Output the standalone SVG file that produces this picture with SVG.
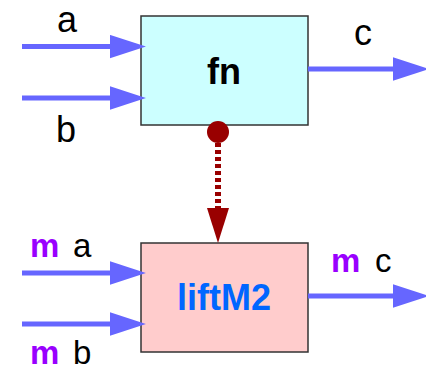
<svg xmlns="http://www.w3.org/2000/svg" width="426" height="371" viewBox="0 0 426 371">
<style>
.box{stroke:#333;stroke-width:1.5}
.flow{stroke:#6666ff;stroke-width:5;fill:none}
.lbl{font-family:"Liberation Sans",Arial,sans-serif;font-size:36px;fill:#000}
.lbl2{font-family:"Liberation Sans",Arial,sans-serif;font-size:33px;fill:#000}
.m{font-weight:bold;fill:#9900ff}
.title{font-family:"Liberation Sans",Arial,sans-serif;font-size:36px;font-weight:bold;text-anchor:middle}
</style>
<defs>
<marker id="ah" markerUnits="userSpaceOnUse" markerWidth="36" markerHeight="24" viewBox="0 0 34 22" refX="1" refY="11" orient="auto">
<path d="M0,0 L34,11 L0,22 Z" fill="#6666ff"/>
</marker>
</defs>
<g id="fn">
<rect class="box" x="141" y="16" width="167" height="109" fill="#ccffff"/>
<text class="title" x="224" y="84" fill="#000">fn</text>
</g>
<g id="liftM2">
<rect class="box" x="141" y="243" width="167" height="109" fill="#ffcccc"/>
<text class="title" x="224" y="310" fill="#0066ff">liftM2</text>
</g>
<g id="connectors">
<line class="flow" x1="22" y1="46.5" x2="111" y2="46.5" marker-end="url(#ah)"/>
<line class="flow" x1="22" y1="98" x2="111" y2="98" marker-end="url(#ah)"/>
<line class="flow" x1="308" y1="69" x2="394" y2="69" marker-end="url(#ah)"/>
<line class="flow" x1="22" y1="273" x2="111" y2="273" marker-end="url(#ah)"/>
<line class="flow" x1="22" y1="324" x2="111" y2="324" marker-end="url(#ah)"/>
<line class="flow" x1="308" y1="296" x2="394" y2="296" marker-end="url(#ah)"/>
<circle cx="218" cy="132" r="11" fill="#990000"/>
<line x1="218" y1="143" x2="218" y2="209" stroke="#990000" stroke-width="6" stroke-dasharray="4 3"/>
<path d="M207,208 L218,243 L229,208 Z" fill="#990000"/>
</g>
<g id="labels">
<text class="lbl" x="57" y="32">a</text>
<text class="lbl" x="56" y="142">b</text>
<text class="lbl" x="354" y="45">c</text>
<text class="lbl2" x="30" y="257"><tspan class="m">m</tspan><tspan x="73">a</tspan></text>
<text class="lbl2" x="30" y="364"><tspan class="m">m</tspan><tspan x="73">b</tspan></text>
<text class="lbl2" x="331" y="272"><tspan class="m">m</tspan><tspan x="375">c</tspan></text>
</g>
</svg>
